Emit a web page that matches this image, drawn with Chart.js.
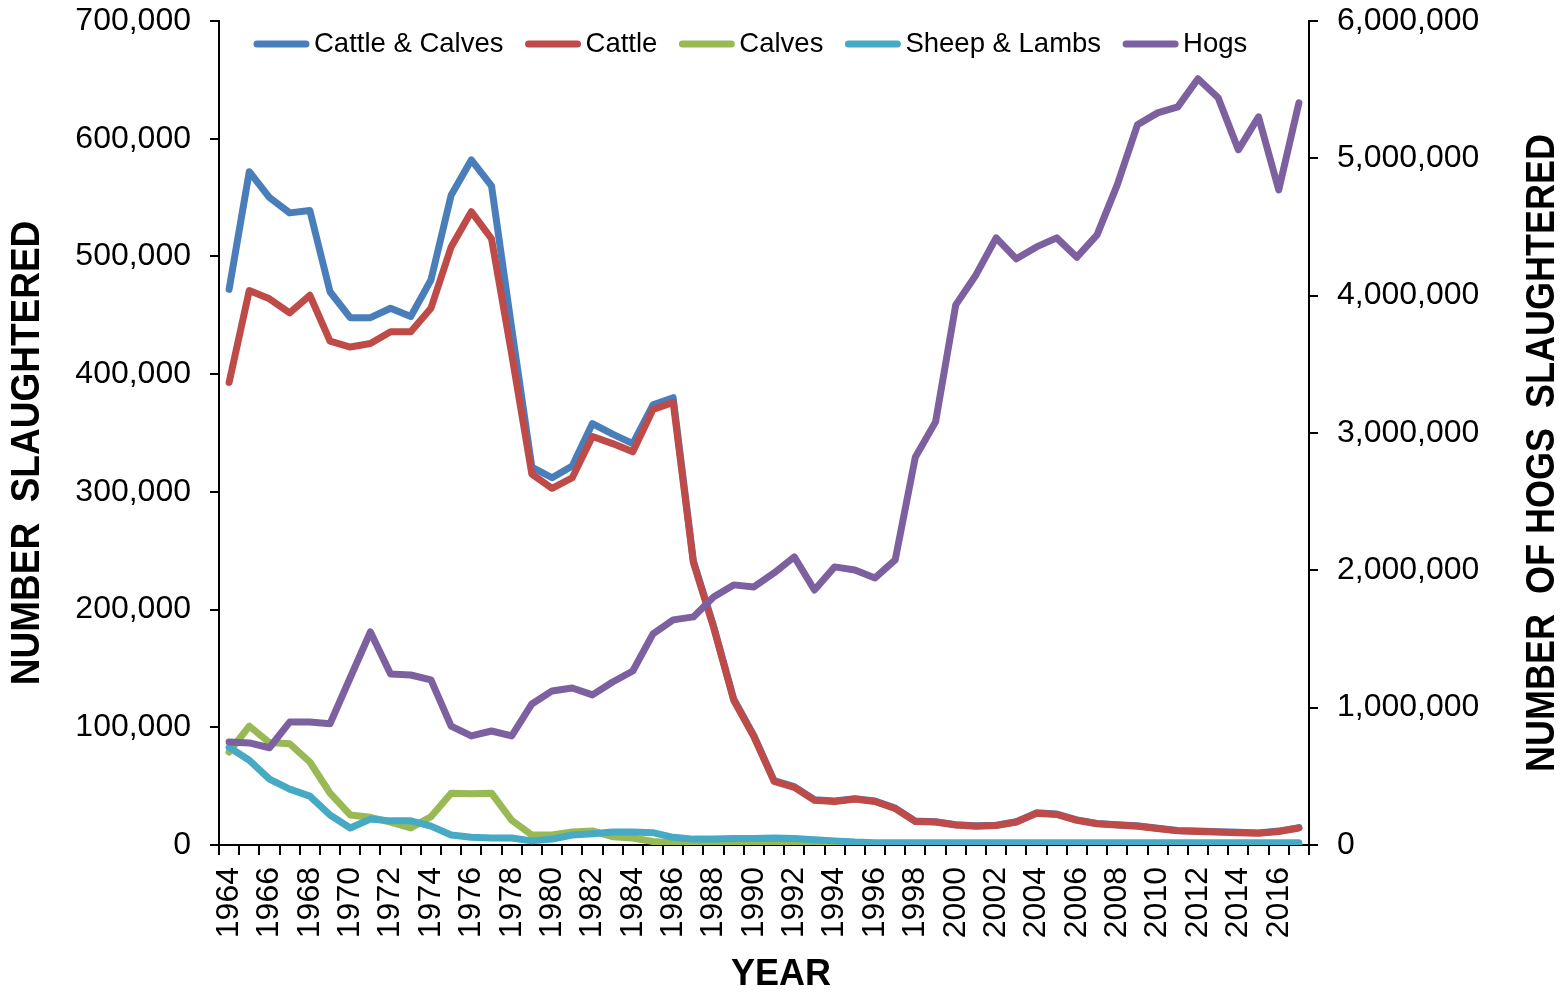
<!DOCTYPE html>
<html>
<head>
<meta charset="utf-8">
<script src="https://cdn.jsdelivr.net/npm/chart.js@4/dist/chart.umd.min.js"></script>
<style>
  html, body { margin: 0; padding: 0; background: #fff; }
  #wrap { width: 1563px; height: 993px; }
</style>
</head>
<body>
<div id="wrap"><canvas id="chart"></canvas></div>
<script>
// Livestock slaughtered per year (left axis) and hogs (right axis)
const YEARS = [
  '1964','1965','1966','1967','1968','1969','1970','1971','1972','1973',
  '1974','1975','1976','1977','1978','1979','1980','1981','1982','1983',
  '1984','1985','1986','1987','1988','1989','1990','1991','1992','1993',
  '1994','1995','1996','1997','1998','1999','2000','2001','2002','2003',
  '2004','2005','2006','2007','2008','2009','2010','2011','2012','2013',
  '2014','2015','2016','2017'
];

const CATTLE_CALVES = [
  472000, 572000, 550000, 537000, 539000, 470000, 448000, 448000, 456000, 449000,
  480000, 552000, 582000, 560000, 439000, 321000, 312000, 322000, 358000, 349000,
  341000, 374000, 380000, 241500, 186200, 124000, 92800, 54700, 49600, 38500,
  37400, 39300, 37300, 31300, 20300, 19800, 17300, 16300, 16800, 19800,
  27300, 26300, 21300, 18300, 17300, 16300, 14300, 12300, 11800, 11300,
  10800, 10300, 11800, 14800
];

const CATTLE = [
  393000, 471000, 464000, 452000, 467000, 428000, 423000, 426000, 436000, 436000,
  456000, 508000, 538000, 515000, 417000, 315000, 303000, 312000, 347000, 341000,
  334000, 370000, 376000, 240000, 185000, 123000, 92000, 54000, 49000, 38000,
  37000, 39000, 37000, 31000, 20000, 19500, 17000, 16000, 16500, 19500,
  27000, 26000, 21000, 18000, 17000, 16000, 14000, 12000, 11500, 11000,
  10500, 10000, 11500, 14500
];

const CALVES = [
  79000, 101000, 87000, 86000, 70500, 44000, 25500, 23500, 19500, 14500,
  24000, 44000, 43500, 44000, 21000, 8500, 8500, 11000, 12000, 7000,
  6000, 3000, 2000, 1500, 1200, 1000, 800, 700, 600, 500,
  400, 400, 400, 350, 350, 300, 300, 300, 300, 300,
  300, 300, 300, 300, 300, 300, 300, 300, 300, 300,
  300, 300, 300, 300
];

const SHEEP_LAMBS = [
  83000, 72000, 56000, 47500, 41500, 25500, 14500, 22000, 20500, 20500,
  16000, 8500, 6500, 6000, 6000, 3500, 5000, 8500, 9500, 11000,
  11000, 10500, 6500, 5000, 5000, 5500, 5500, 6000, 5500, 4500,
  3500, 2500, 2000, 2000, 2000, 2000, 2000, 2000, 2000, 2000,
  2000, 2000, 2000, 2000, 2000, 2000, 2000, 2000, 2000, 2000,
  2000, 2000, 2000, 2000
];

const HOGS = [
  750000, 743000, 708000, 895000, 895000, 883000, 1218000, 1551000, 1245000, 1238000,
  1202000, 866000, 794000, 830000, 794000, 1027000, 1122000, 1143000, 1093000, 1187000,
  1267000, 1537000, 1639000, 1661000, 1806000, 1894000, 1879000, 1981000, 2098000, 1857000,
  2025000, 2003000, 1945000, 2076000, 2826000, 3081000, 3933000, 4151000, 4421000, 4268000,
  4355000, 4421000, 4280000, 4443000, 4807000, 5244000, 5331000, 5375000, 5579000, 5441000,
  5062000, 5302000, 4770000, 5404000
];

const TITLE_X = 'YEAR';
const TITLE_LEFT = 'NUMBER  SLAUGHTERED';
const TITLE_RIGHT = 'NUMBER  OF HOGS  SLAUGHTERED';

const FONT = '"Liberation Sans", Arial, sans-serif';
const LINE_W = 7;

Chart.defaults.font.family = FONT;
Chart.defaults.color = '#000';

function series(label, data, color, axis, order) {
  return {
    label, data, yAxisID: axis, order,
    borderColor: color, backgroundColor: color,
    borderWidth: LINE_W, borderCapStyle: 'round', borderJoinStyle: 'round',
    pointRadius: 0, pointHoverRadius: 0, tension: 0, fill: false,
  };
}

// axis titles (both read bottom-to-top) and the in-plot legend
const overlay = {
  id: 'overlay',
  afterDraw(chart) {
    const { ctx } = chart;
    ctx.save();
    ctx.fillStyle = '#000';
    ctx.textBaseline = 'middle';
    ctx.textAlign = 'center';
    ctx.font = 'bold 36px ' + FONT;
    ctx.fillText(TITLE_X, 781, 975);
    [[28, TITLE_LEFT, 37], [1543, TITLE_RIGHT, 36]].forEach(([x, t, size]) => {
      ctx.save();
      ctx.font = 'bold ' + size + 'px ' + FONT;
      ctx.translate(x, 453);
      ctx.rotate(-Math.PI / 2);
      ctx.scale(1, 1.12);
      ctx.fillText(t, 0, 0);
      ctx.restore();
    });

    ctx.font = '27.5px ' + FONT;
    ctx.textAlign = 'left';
    ctx.lineCap = 'round';
    ctx.lineWidth = LINE_W;
    let x = 254;
    const y = 44;
    chart.data.datasets.forEach((ds) => {
      ctx.strokeStyle = ds.borderColor;
      ctx.beginPath();
      ctx.moveTo(x + 3, y);
      ctx.lineTo(x + 52, y);
      ctx.stroke();
      ctx.fillText(ds.label, x + 60, y);
      x += 60 + ctx.measureText(ds.label).width + 22;
    });
    ctx.restore();
  },
};

const axisLine = { display: true, color: '#000', width: 2 };
const tickGrid = { display: true, drawOnChartArea: false, drawTicks: true, color: '#000', lineWidth: 2 };

// fixed axis box sizes so the plot area lands where the original has it
function fixVertical(width) {
  return (s) => { s.width = width; s.paddingTop = 0; s.paddingBottom = 0; };
}

new Chart(document.getElementById('chart'), {
  type: 'line',
  data: {
    labels: YEARS,
    datasets: [
      series('Cattle & Calves', CATTLE_CALVES, '#4A7EBB', 'y', 5),
      series('Cattle', CATTLE, '#BE4B48', 'y', 4),
      series('Calves', CALVES, '#98B954', 'y', 3),
      series('Sheep & Lambs', SHEEP_LAMBS, '#46AAC5', 'y', 2),
      series('Hogs', HOGS, '#7D60A0', 'y2', 1),
    ],
  },
  plugins: [overlay],
  options: {
    responsive: true,
    maintainAspectRatio: false,
    animation: false,
    layout: { padding: { top: 21, left: 0, right: 0, bottom: 0 } },
    plugins: { legend: { display: false }, tooltip: { enabled: false } },
    scales: {
      x: {
        type: 'category',
        offset: true,
        border: axisLine,
        grid: { ...tickGrid, offset: true, tickLength: 10 },
        ticks: {
          autoSkip: false, minRotation: 90, maxRotation: 90, padding: 12,
          font: { size: 32 },
          callback: (v, i) => (i % 2 === 0 ? YEARS[i] : ''),
        },
        afterFit: (s) => { s.height = 148; s.paddingLeft = 0; s.paddingRight = 0; },
      },
      y: {
        position: 'left',
        min: 0, max: 700000,
        border: axisLine,
        grid: { ...tickGrid, tickLength: 9 },
        ticks: { stepSize: 100000, padding: 19, font: { size: 32 }, callback: (v) => v.toLocaleString('en-US') },
        afterFit: fixVertical(219),
      },
      y2: {
        position: 'right',
        min: 0, max: 6000000,
        border: axisLine,
        grid: { ...tickGrid, tickLength: 9 },
        ticks: { stepSize: 1000000, padding: 19, font: { size: 32 }, callback: (v) => v.toLocaleString('en-US') },
        afterFit: fixVertical(254),
      },
    },
  },
});
</script>
</body>
</html>
